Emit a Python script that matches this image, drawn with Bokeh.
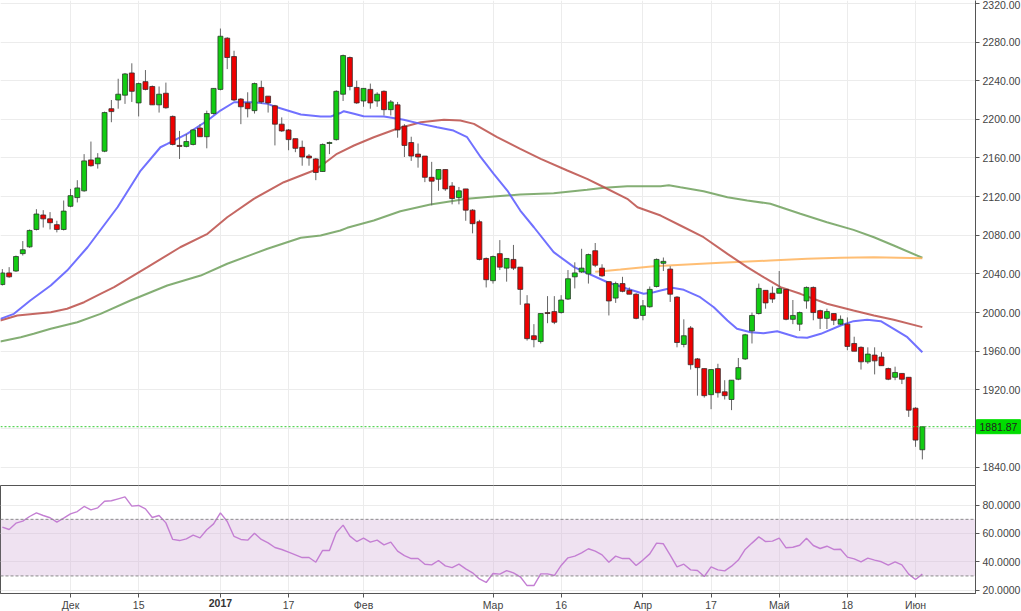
import numpy as np
from bokeh.plotting import figure
from bokeh.models import (Range1d, FixedTicker, NumeralTickFormatter, Span,
                          BoxAnnotation, Label, ColumnDataSource)
from bokeh.layouts import column
from bokeh.embed import file_html
from bokeh.resources import INLINE

# ---------------- data (trading-day index, 0 = 1 Dec 2016) ----------------
day_idx = list(range(-10, 126))

opens = [2029, 2041, 2043, 2061, 2068, 2086, 2101, 2097, 2091, 2086,
         2110, 2119, 2126, 2158, 2154, 2167, 2211, 2220, 2225, 2248,
         2217, 2239, 2234, 2215, 2227, 2203, 2173, 2172, 2174, 2191,
         2182, 2206, 2231, 2284, 2265, 2221, 2217, 2209, 2233, 2224,
         2214, 2195, 2189, 2180, 2171, 2162, 2159, 2146, 2175, 2179,
         2226, 2264, 2233, 2219, 2231, 2219, 2229, 2210, 2215, 2193,
         2176, 2164, 2162, 2140, 2138, 2148, 2131, 2119, 2128, 2106,
         2094, 2056, 2033, 2061, 2046, 2055, 2047, 2009, 1976, 1970,
         2000, 2001, 2000, 2014, 2037, 2042, 2040, 2064, 2046, 2032,
         2015, 2030, 2023, 2019, 1997, 2006, 2027, 2051, 2045, 2016,
         1967, 1984, 1952, 1942, 1915, 1942, 1918, 1910, 1931, 1952,
         1981, 1999, 2023, 2020, 2020, 2024, 1993, 1988, 2012, 2026,
         2002, 1994, 1999, 1988, 1988, 1968, 1964, 1949, 1956, 1954,
         1942, 1933, 1937, 1933, 1901, 1858]
highs = [2045, 2047, 2059, 2074, 2086, 2107, 2106, 2104, 2095, 2116,
         2128, 2137, 2164, 2177, 2165, 2208, 2220, 2242, 2248, 2258,
         2238, 2251, 2235, 2234, 2238, 2204, 2188, 2185, 2190, 2195,
         2209, 2232, 2294, 2285, 2271, 2222, 2228, 2238, 2240, 2224,
         2215, 2202, 2190, 2180, 2178, 2164, 2160, 2175, 2177, 2230,
         2267, 2265, 2240, 2232, 2237, 2228, 2230, 2220, 2218, 2195,
         2182, 2175, 2162, 2156, 2148, 2148, 2135, 2130, 2128, 2107,
         2096, 2057, 2059, 2075, 2056, 2070, 2047, 2018, 1988, 1999,
         2017, 2017, 2018, 2044, 2052, 2066, 2061, 2072, 2050, 2032,
         2032, 2037, 2026, 2020, 2013, 2027, 2056, 2057, 2048, 2017,
         1993, 1986, 1953, 1942, 1941, 1947, 1930, 1930, 1953, 1978,
         2000, 2030, 2023, 2027, 2043, 2024, 2013, 2001, 2027, 2027,
         2003, 2004, 1999, 1997, 1995, 1975, 1965, 1964, 1964, 1959,
         1943, 1944, 1937, 1933, 1902, 1882]
lows = [2028, 2036, 2042, 2059, 2067, 2085, 2088, 2086, 2083, 2085,
        2109, 2114, 2125, 2151, 2149, 2166, 2197, 2211, 2216, 2218,
        2203, 2230, 2215, 2207, 2211, 2173, 2159, 2171, 2173, 2182,
        2170, 2205, 2230, 2252, 2219, 2195, 2202, 2206, 2216, 2207,
        2173, 2187, 2168, 2166, 2152, 2152, 2137, 2146, 2164, 2178,
        2219, 2230, 2216, 2213, 2211, 2213, 2204, 2204, 2181, 2161,
        2157, 2150, 2135, 2111, 2126, 2126, 2112, 2112, 2095, 2082,
        2054, 2026, 2030, 2044, 2032, 2044, 2008, 1971, 1964, 1968,
        1989, 1988, 1999, 2013, 2025, 2041, 2030, 2047, 2037, 1997,
        2010, 2021, 2019, 1993, 1992, 2005, 2026, 2043, 2011, 1964,
        1964, 1941, 1914, 1912, 1900, 1912, 1910, 1899, 1930, 1951,
        1968, 1998, 2004, 2010, 2020, 1992, 1988, 1981, 2004, 1992,
        1983, 1983, 1987, 1987, 1961, 1960, 1941, 1947, 1936, 1945,
        1930, 1930, 1926, 1892, 1861, 1848]
closes = [2041, 2037, 2058, 2065, 2085, 2102, 2097, 2093, 2086, 2105,
          2121, 2129, 2157, 2152, 2160, 2207, 2208, 2226, 2247, 2229,
          2237, 2231, 2215, 2226, 2212, 2174, 2172, 2177, 2189, 2182,
          2206, 2232, 2286, 2264, 2220, 2213, 2211, 2237, 2218, 2217,
          2195, 2188, 2179, 2170, 2161, 2160, 2145, 2174, 2176, 2229,
          2266, 2234, 2217, 2232, 2217, 2226, 2210, 2218, 2189, 2173,
          2162, 2161, 2140, 2136, 2148, 2128, 2118, 2126, 2106, 2092,
          2055, 2034, 2058, 2047, 2056, 2046, 2024, 1973, 1972, 1999,
          1999, 1990, 2013, 2035, 2041, 2046, 2060, 2049, 2038, 2012,
          2030, 2022, 2019, 1994, 2007, 2024, 2055, 2053, 2019, 1969,
          1976, 1946, 1943, 1914, 1941, 1917, 1914, 1930, 1943, 1977,
          1997, 2025, 2010, 2014, 2025, 1993, 1997, 2000, 2026, 2000,
          1994, 2001, 1992, 1993, 1965, 1960, 1949, 1957, 1950, 1945,
          1931, 1938, 1931, 1899, 1868, 1881.87]

rsi = [64.5, 62.8, 67.3, 68.7, 72.0, 74.6, 72.7, 71.1, 68.0, 70.8,
       73.9, 75.5, 79.1, 76.7, 78.1, 82.8, 83.1, 84.5, 85.9, 79.3,
       79.8, 77.4, 71.3, 72.7, 67.5, 55.8, 55.0, 56.2, 58.8, 56.9,
       62.6, 66.8, 74.6, 68.5, 57.9, 55.8, 55.3, 60.2, 55.8, 53.4,
       50.1, 48.7, 46.8, 44.9, 43.0, 43.0, 39.7, 48.0, 48.0, 60.5,
       65.9, 58.1, 54.3, 56.7, 53.9, 55.3, 52.0, 53.9, 47.5, 44.4,
       42.3, 42.3, 38.3, 37.8, 40.9, 37.1, 35.9, 38.3, 35.0, 32.2,
       27.9, 25.4, 31.7, 31.3, 33.8, 32.2, 29.4, 23.2, 23.2, 31.5,
       31.5, 30.3, 37.4, 42.8, 44.0, 46.3, 49.2, 47.5, 44.9, 39.7,
       44.0, 42.3, 42.3, 37.4, 41.2, 45.6, 53.2, 52.7, 44.7, 36.4,
       38.3, 34.3, 33.8, 29.6, 36.4, 34.3, 33.6, 36.9, 41.2, 48.7,
       53.2, 57.6, 54.3, 54.6, 56.7, 49.9, 50.3, 51.7, 56.7, 51.5,
       49.4, 51.0, 48.7, 48.9, 43.3, 42.1, 40.0, 42.6, 41.2, 40.0,
       37.6, 40.0, 37.8, 31.3, 27.5, 31.3]
rsi_bands = [30, 70]

# moving averages (sample points)
ma_blue_x = [-10.3, -8.3, -5.9, -2.9, -0.5, 2.5, 6.9, 10.3, 13.2, 14.2, 17.1, 20.1,
             22.0, 24.0, 26.9, 28.9, 30.3, 33.8, 36.7, 38.2, 39.6, 40.1, 41.6, 43.0,
             46.0, 48.9, 51.4, 53.8, 56.2, 58.2, 60.2, 62.1, 64.1, 66.0, 68.0, 70.9,
             73.9, 78.8, 81.7, 84.1, 85.6, 86.6, 88.3, 90.0, 92.4, 94.4, 96.4, 97.8,
             99.8, 101.7, 103.7, 106.6, 108.1, 110.1, 113.0, 114.9, 116.9, 118.9,
             120.8, 122.8, 125.0]
ma_blue_y = [1993.5, 1998.7, 2012.5, 2028.0, 2043.5, 2067.6, 2109.0, 2147.0, 2171.1,
             2174.6, 2185.0, 2198.8, 2209.1, 2217.7, 2217.7, 2216.0, 2212.5, 2205.0,
             2202.9, 2202.9, 2206.5, 2208.4, 2205.7, 2203.2, 2202.9, 2199.5, 2195.3,
             2191.8, 2188.4, 2181.5, 2160.8, 2143.6, 2126.3, 2105.6, 2088.3, 2062.5,
             2047.0, 2031.4, 2024.6, 2019.4, 2021.1, 2022.8, 2025.6, 2023.5, 2015.9,
             2005.5, 1991.8, 1983.2, 1979.7, 1978.6, 1980.7, 1974.5, 1973.9, 1978.0,
             1986.6, 1991.1, 1992.5, 1991.1, 1983.2, 1974.5, 1959.0]
ma_red_x = [-10.3, -7.8, -2.9, -0.5, 2.0, 4.4, 6.4, 11.3, 16.1, 20.1, 23.0, 26.9, 31.3,
            35.7, 36.7, 39.1, 41.6, 44.5, 47.9, 51.4, 54.8, 57.2, 59.2, 62.6, 66.0,
            69.0, 72.9, 75.8, 78.3, 81.7, 83.2, 86.6, 89.5, 92.9, 96.4, 99.3, 101.7,
            104.2, 107.1, 111.0, 114.9, 117.9, 120.8, 125.0]
ma_red_y = [1991.8, 1997.0, 2000.4, 2003.9, 2010.7, 2019.4, 2026.3, 2047.0, 2067.6,
            2081.5, 2098.7, 2117.7, 2134.9, 2147.0, 2151.5, 2164.3, 2172.9, 2181.5,
            2190.2, 2197.0, 2199.5, 2198.7, 2195.3, 2181.5, 2169.5, 2159.1, 2147.0,
            2138.4, 2129.7, 2117.7, 2109.0, 2100.4, 2090.1, 2078.0, 2060.8, 2047.0,
            2036.6, 2026.3, 2019.4, 2009.1, 2002.1, 1997.0, 1992.5, 1984.9]
ma_green_x = [-10.3, -7.3, -5.4, -2.9, 1.0, 4.4, 8.8, 14.2, 19.1, 23.0, 28.9, 33.8,
              36.7, 39.6, 40.6, 44.5, 48.4, 52.8, 58.2, 62.1, 66.0, 70.9, 75.8, 78.3,
              81.7, 86.6, 87.8, 89.5, 92.9, 96.4, 99.3, 102.7, 107.1, 111.0, 114.9,
              117.9, 120.8, 125.0]
ma_green_y = [1970.0, 1974.5, 1978.0, 1983.2, 1990.0, 1998.7, 2012.5, 2028.0, 2038.3,
              2050.5, 2066.0, 2077.4, 2079.7, 2084.9, 2087.7, 2095.3, 2104.9, 2111.8,
              2117.7, 2120.1, 2122.2, 2123.5, 2127.0, 2129.1, 2130.8, 2130.8, 2131.8,
              2129.7, 2125.6, 2119.4, 2116.0, 2112.6, 2102.2, 2093.5, 2085.6, 2078.0,
              2069.4, 2056.7]
ma_orange_x = [77.0, 78.0, 80.7, 85.6, 90.5, 95.4, 102.7, 108.1, 113.0, 117.9, 125.0]
ma_orange_y = [2042.2, 2042.8, 2044.6, 2048.0, 2049.7, 2051.5, 2053.9, 2055.6, 2056.7,
               2057.3, 2056.3]

tick_idx = [0, 10, 22, 32, 43, 62, 72, 84, 94, 104, 114, 124]
tick_labels = ["Дек", "15", "2017", "17", "Фев", "Мар", "16", "Апр", "17", "Май", "18", "Июн"]
price_ticks = list(range(1840, 2321, 40))
rsi_ticks = [20, 40, 60, 80]

# ---------------- styling ----------------
FONT = "Liberation Sans"
FS = "10.5px"
GRID = "#ececec"
AXIS = "#555555"
LBL = "#444444"

x_range = Range1d(-10.27, 132.8)


def style_axis(ax):
    ax.axis_line_color = AXIS
    ax.major_tick_line_color = AXIS
    ax.minor_tick_line_color = None
    ax.major_tick_out = 4
    ax.major_tick_in = 0
    ax.major_label_text_font = FONT
    ax.major_label_text_font_size = FS
    ax.major_label_text_color = LBL


# ---------------- price panel ----------------
p1 = figure(frame_width=975, frame_height=485, x_range=x_range,
            y_range=Range1d(1821, 2323), output_backend="svg",
            toolbar_location=None, min_border=0, x_axis_location=None,
            y_axis_location="right")
p1.outline_line_color = None
style_axis(p1.yaxis[0])
p1.yaxis[0].ticker = FixedTicker(ticks=price_ticks)
p1.yaxis[0].formatter = NumeralTickFormatter(format="0.00")
p1.yaxis[0].major_label_standoff = 3
p1.xgrid.ticker = FixedTicker(ticks=tick_idx)
p1.xgrid.grid_line_color = GRID
p1.ygrid.grid_line_color = GRID

p1.line(ma_green_x, ma_green_y, line_color="#6fa05c", line_width=2, line_alpha=0.85)
p1.line(ma_orange_x, ma_orange_y, line_color="#ffb35c", line_width=2, line_alpha=0.85)
p1.line(ma_red_x, ma_red_y, line_color="#bb4e48", line_width=2, line_alpha=0.85)
p1.line(ma_blue_x, ma_blue_y, line_color="#6262ff", line_width=2, line_alpha=0.9)

o = np.array(opens, dtype=float)
c = np.array(closes, dtype=float)
up = c >= o
src_up = ColumnDataSource(dict(x=np.array(day_idx)[up], top=c[up], bottom=o[up]))
src_dn = ColumnDataSource(dict(x=np.array(day_idx)[~up], top=o[~up], bottom=c[~up]))

p1.segment(x0=day_idx, y0=lows, x1=day_idx, y1=highs, line_color="#666666", line_width=1)
p1.vbar(x="x", top="top", bottom="bottom", width=0.72, source=src_up,
        fill_color="#12cc12", line_color="#2a3a2a", line_width=0.8)
p1.vbar(x="x", top="top", bottom="bottom", width=0.72, source=src_dn,
        fill_color="#ee0000", line_color="#3a2a2a", line_width=0.8)

last = closes[-1]
p1.add_layout(Span(location=last, dimension="width", line_color="#33cc33",
                   line_dash="2 2", line_width=1))
# last-price marker in the axis area (side panel, so not clipped by the frame)
p1.add_layout(Label(x=x_range.end, y=last, x_offset=1, text=f"{last:.2f}",
                    text_baseline="middle", text_font=FONT, text_font_size=FS,
                    text_color="#222222", background_fill_color="#00dd00",
                    border_line_color="#00dd00", padding=3), "right")

# ---------------- RSI panel ----------------
p2 = figure(frame_width=975, frame_height=108, x_range=x_range,
            y_range=Range1d(17.6, 93.9), output_backend="svg",
            toolbar_location=None, min_border=0, y_axis_location="right")
p2.outline_line_color = AXIS
style_axis(p2.yaxis[0])
p2.yaxis[0].ticker = FixedTicker(ticks=rsi_ticks)
p2.yaxis[0].formatter = NumeralTickFormatter(format="0.0000")
p2.yaxis[0].major_label_standoff = 3
style_axis(p2.xaxis[0])
p2.xaxis[0].ticker = FixedTicker(ticks=tick_idx)
p2.xaxis[0].major_label_overrides = {t: ("" if l == "2017" else l)
                                     for t, l in zip(tick_idx, tick_labels)}
p2.xaxis[0].major_label_standoff = 1
p2.xgrid.grid_line_color = GRID
p2.xgrid.ticker = FixedTicker(ticks=tick_idx)
p2.ygrid.grid_line_color = GRID

p2.add_layout(BoxAnnotation(bottom=rsi_bands[0], top=rsi_bands[1],
                            fill_color="#d8b6dd", fill_alpha=0.4,
                            line_color=None, level="underlay"))
for b in rsi_bands:
    p2.add_layout(Span(location=b, dimension="width", line_color="#8a8a8a",
                       line_dash="3 2", line_width=1))
p2.line(day_idx, rsi, line_color="#c47fd3", line_width=1.4)

for t, l in zip(tick_idx, tick_labels):
    if l == "2017":
        p2.add_layout(Label(x=t, y=p2.y_range.start, y_offset=-5, text=l,
                            text_align="center", text_baseline="top",
                            text_font=FONT, text_font_size=FS,
                            text_font_style="bold", text_color="#333333"),
                      "below")

layout = column(p1, p2, spacing=0)
open("out.html", "w").write(file_html(layout, INLINE))
